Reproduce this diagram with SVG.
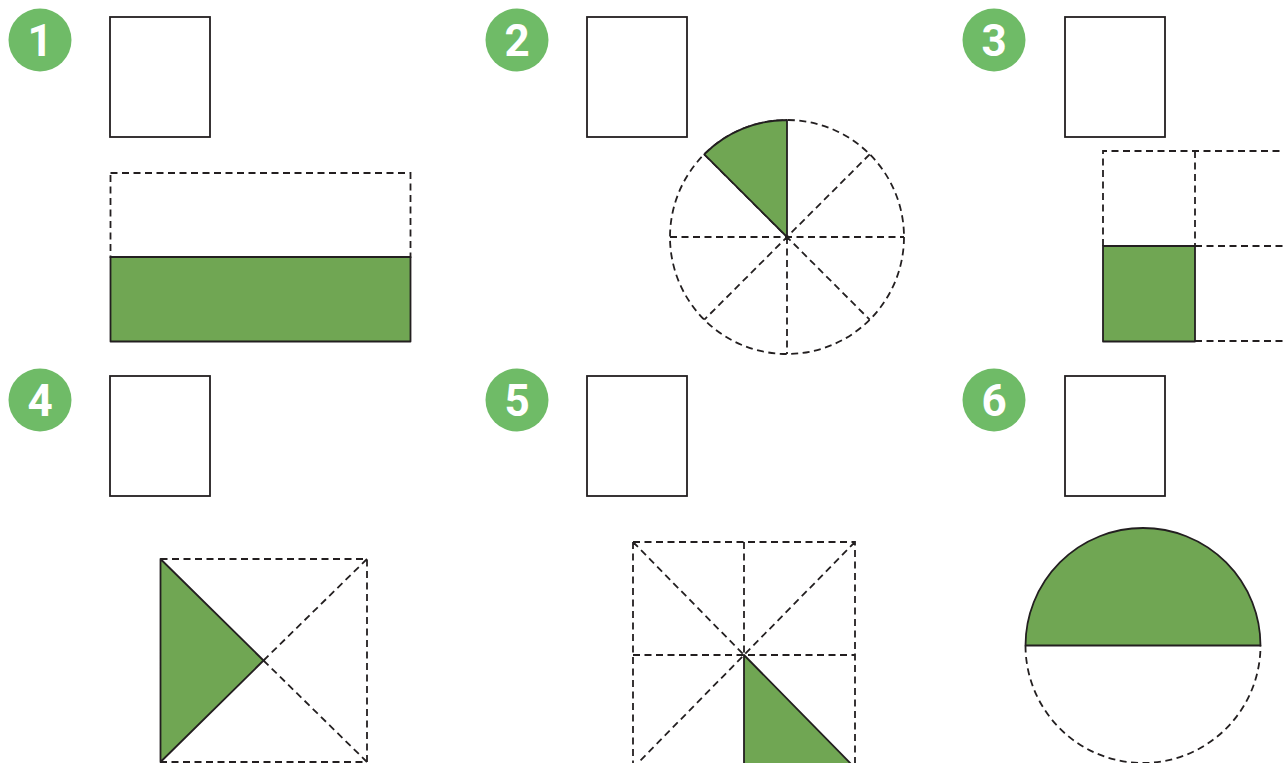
<svg xmlns="http://www.w3.org/2000/svg" width="1283" height="763" viewBox="0 0 1283 763">
<style>
.badge{fill:#6fbb67}
.num{fill:#fff;font-family:Roboto,"DejaVu Sans Condensed",sans-serif;font-weight:bold;font-size:44px;text-anchor:middle}
.box{fill:#fff;stroke:#231f20;stroke-width:1.8}
.dash{fill:none;stroke:#231f20;stroke-width:1.8;stroke-dasharray:7,4.5}
.solid{fill:#70a653;stroke:#231f20;stroke-width:1.8;stroke-linejoin:round}
</style>
<rect width="1283" height="763" fill="#fff"/>
<g id="item1">
<circle class="badge" cx="40" cy="40" r="31.5"/><text class="num" x="40" y="56">1</text>
<rect class="box" x="110" y="17" width="100" height="120"/>
<rect class="dash" x="110.5" y="173" width="300" height="84"/>
<rect class="solid" x="110.5" y="257" width="300" height="84.5"/>
</g>
<g id="item2">
<circle class="badge" cx="517" cy="40" r="31.5"/><text class="num" x="517" y="56">2</text>
<rect class="box" x="587" y="17" width="100" height="120"/>
<circle class="dash" cx="787" cy="237" r="117"/>
<path class="dash" d="M670 237H904M787 237V354M704.3 154.3L869.7 319.7M869.7 154.3L704.3 319.7"/>
<path class="solid" d="M787 237V120A117 117 0 0 0 704.3 154.3Z"/>
</g>
<g id="item3">
<circle class="badge" cx="994" cy="40" r="31.5"/><text class="num" x="994" y="56">3</text>
<rect class="box" x="1065" y="17" width="100" height="120"/>
<path class="dash" d="M1103 246V151H1290M1195 151V246M1195 246H1290M1195 341H1290"/>
<rect class="solid" x="1103" y="246" width="92" height="95.5"/>
</g>
<g id="item4">
<circle class="badge" cx="40" cy="400" r="31.5"/><text class="num" x="40" y="416">4</text>
<rect class="box" x="110" y="376" width="100" height="120"/>
<path class="dash" d="M160.5 559H367V762H160.5M263.5 660.5L367 559M263.5 660.5L367 762"/>
<path class="solid" d="M160.5 559L263.5 660.5L160.5 762Z"/>
</g>
<g id="item5">
<circle class="badge" cx="517" cy="400" r="31.5"/><text class="num" x="517" y="416">5</text>
<rect class="box" x="587" y="376" width="100" height="120"/>
<path class="dash" d="M633 542H855V770M633 542V770M744 542V655M633 655H855M633 542L744 655M855 542L744 655L633 768"/>
<path class="solid" d="M744 655L857 770H744Z"/>
</g>
<g id="item6">
<circle class="badge" cx="994" cy="400" r="31.5"/><text class="num" x="994" y="416">6</text>
<rect class="box" x="1065" y="376" width="100" height="120"/>
<path class="dash" d="M1025.5 645.5A117.5 117.5 0 0 0 1260.5 645.5"/>
<path class="solid" d="M1025.5 645.5A117.5 117.5 0 0 1 1260.5 645.5Z"/>
</g>
</svg>
